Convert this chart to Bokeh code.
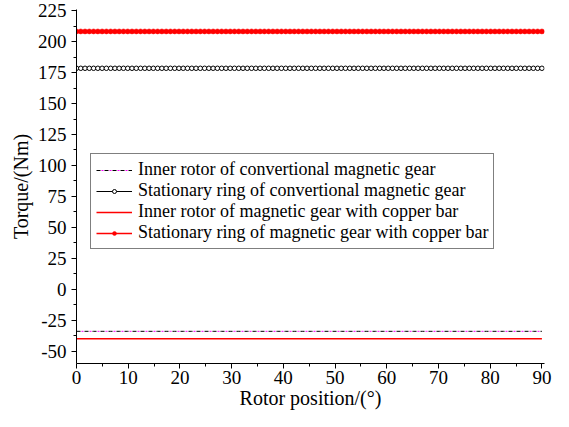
from bokeh.plotting import figure
from bokeh.models import FixedTicker, Legend, LegendItem, Range1d
from bokeh.embed import file_html
from bokeh.resources import INLINE

# ---- data ----
n_points = 110
rotor_position = [round(90 * i / (n_points - 1), 3) for i in range(n_points)]
inner_conv_torque = -34.0
stat_conv_torque = 178.5
inner_cu_torque = -40.0
stat_cu_torque = 208.3

x_ticks = [0, 10, 20, 30, 40, 50, 60, 70, 80, 90]
x_minor = [5, 15, 25, 35, 45, 55, 65, 75, 85]
y_ticks = [-50, -25, 0, 25, 50, 75, 100, 125, 150, 175, 200, 225]
y_minor = [-62.5, -37.5, -12.5, 12.5, 37.5, 62.5, 87.5, 112.5, 137.5, 162.5, 187.5, 212.5]

labels = [
    "Inner rotor of convertional magnetic gear",
    "Stationary ring of convertional magnetic gear",
    "Inner rotor of magnetic gear with copper bar",
    "Stationary ring of magnetic gear with copper bar",
]

FONT = "Times New Roman, Liberation Serif, serif"

p = figure(width=553, height=411, output_backend="svg", toolbar_location=None,
           x_range=Range1d(0, 90.5), y_range=Range1d(-60, 226),
           min_border_left=76, min_border_right=9, min_border_top=9, min_border_bottom=44)
p.outline_line_color = None
p.xgrid.visible = False
p.ygrid.visible = False
p.background_fill_color = "white"

y1 = [inner_conv_torque] * n_points
y2 = [stat_conv_torque] * n_points
y3 = [inner_cu_torque] * n_points
y4 = [stat_cu_torque] * n_points

r1a = p.line(rotor_position, y1, line_color="black", line_width=1, line_dash="4 4")
r1b = p.line(rotor_position, y1, line_color="magenta", line_width=1, line_dash="2 6", line_dash_offset=-5)

r2l = p.line(rotor_position, y2, line_color="black", line_width=1)
r2m = p.scatter(rotor_position, y2, marker="circle", size=4.5, line_color="black",
                fill_color="white", line_width=1)

r3 = p.line(rotor_position, y3, line_color="red", line_width=1.6)

r4l = p.line(rotor_position, y4, line_color="red", line_width=1.6)
r4m = p.scatter(rotor_position, y4, marker="circle", size=5, line_color="red",
                fill_color="red", line_width=0.5)

# axes
for ax in (p.xaxis[0], p.yaxis[0]):
    ax.axis_line_color = "black"
    ax.axis_line_width = 1
    ax.major_tick_line_color = "black"
    ax.minor_tick_line_color = "black"
    ax.major_tick_in = 0
    ax.major_tick_out = 5
    ax.minor_tick_in = 0
    ax.minor_tick_out = 3
    ax.major_label_text_font = FONT
    ax.major_label_text_font_size = "19px"
    ax.major_label_text_color = "black"
    ax.axis_label_text_font = FONT
    ax.axis_label_text_font_size = "20px"
    ax.axis_label_text_font_style = "normal"
    ax.axis_label_text_color = "black"

p.xaxis.ticker = FixedTicker(ticks=x_ticks, minor_ticks=x_minor)
p.yaxis.ticker = FixedTicker(ticks=y_ticks, minor_ticks=y_minor)
p.yaxis.major_label_overrides = {t: str(t) for t in y_ticks}
p.xaxis.major_label_standoff = 2
p.yaxis.major_label_standoff = 5
p.xaxis.axis_label = "Rotor position/(°)"
p.yaxis.axis_label = "Torque/(Nm)"
p.xaxis.axis_label_standoff = 0
p.yaxis.axis_label_standoff = 3

legend = Legend(items=[
    LegendItem(label=labels[0], renderers=[r1a, r1b]),
    LegendItem(label=labels[1], renderers=[r2l, r2m]),
    LegendItem(label=labels[2], renderers=[r3]),
    LegendItem(label=labels[3], renderers=[r4l, r4m]),
], location=(14, 114))
legend.border_line_color = "black"
legend.border_line_width = 1
legend.background_fill_alpha = 1
legend.label_text_font = FONT
legend.label_text_font_size = "18px"
legend.label_text_color = "black"
legend.glyph_width = 36
legend.glyph_height = 10
legend.label_height = 21
legend.label_standoff = 6
legend.spacing = 0
legend.padding = 5
legend.margin = 0
p.add_layout(legend, "center")

open("out.html", "w").write(file_html(p, INLINE))
